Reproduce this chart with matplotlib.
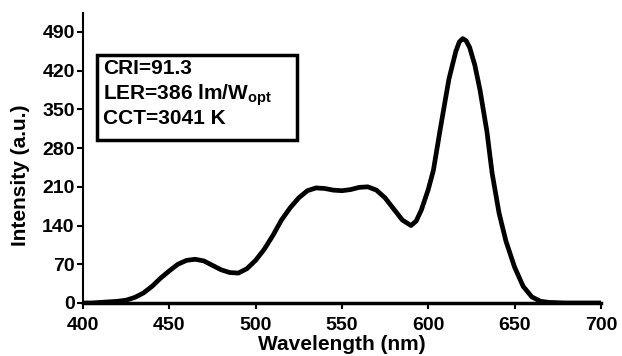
import numpy as np
import matplotlib
matplotlib.use("Agg")
import matplotlib.pyplot as plt
from matplotlib.patches import Rectangle

plt.rcParams['font.family'] = 'Liberation Sans'
plt.rcParams['font.weight'] = 'bold'
plt.rcParams['mathtext.fontset'] = 'custom'
plt.rcParams['mathtext.rm'] = 'Liberation Sans:bold'
plt.rcParams['mathtext.bf'] = 'Liberation Sans:bold'

# spectrum
wavelength = [400, 405, 410, 415, 420, 425, 430, 435, 440, 445, 450, 455, 460, 465,
              470, 475, 480, 485, 490, 495, 500, 505, 510, 515, 520, 525, 530, 535,
              540, 545, 550, 555, 560, 565, 570, 575, 580, 585, 590, 593, 596, 600,
              603, 607, 612, 616, 618, 620, 622, 624, 627, 630, 634, 637, 641, 645,
              650, 655, 660, 665, 670, 680, 690, 700]
intensity = [0, 0, 1, 2, 3, 5, 10, 18, 30, 45, 58, 70, 77, 79,
             76, 68, 60, 55, 54, 62, 77, 97, 122, 150, 172, 190, 203, 208,
             207, 204, 203, 205, 209, 210, 204, 190, 170, 150, 140, 148, 168, 205,
             240, 315, 405, 455, 472, 478, 474, 462, 430, 385, 310, 235, 163, 112,
             65, 30, 11, 3, 1, 0, 0, 0]

xticks = [400, 450, 500, 550, 600, 650, 700]
yticks = [0, 70, 140, 210, 280, 350, 420, 490]
info = ["CRI=91.3", r"LER=386 lm/W$_{\mathbf{opt}}$", "CCT=3041 K"]

fig = plt.figure(figsize=(6.22, 3.56), dpi=100)
ax = fig.add_axes([0.1334, 0.149, 0.8326, 0.814])
ax.plot(wavelength, intensity, color='black', lw=3.4, solid_capstyle='round')

ax.set_xlim(400, 700)
ax.set_ylim(0, 524)
ax.set_xticks(xticks)
ax.set_yticks(yticks)
ax.tick_params(axis='x', direction='out', length=4, width=1.5, labelsize=14, pad=6)
ax.tick_params(axis='y', direction='out', length=4, width=1.5, labelsize=14, pad=2)
for lab in ax.get_xticklabels() + ax.get_yticklabels():
    lab.set_fontweight('bold')
ax.spines['top'].set_visible(False)
ax.spines['right'].set_visible(False)
ax.spines['left'].set_linewidth(1.5)
ax.spines['bottom'].set_linewidth(2.5)
ax.set_xlabel('Wavelength (nm)', fontsize=15, fontweight='bold', labelpad=1)
ax.set_ylabel('Intensity (a.u.)', fontsize=15, fontweight='bold', labelpad=0)
ax.yaxis.set_label_coords(-0.102, 0.44)

# info box
fig.patches.append(Rectangle((97/622, 1-140/356), 200/622, 85/356,
                             transform=fig.transFigure, fill=False,
                             lw=2.5, ec='black'))
for s, yp in zip(info, [69, 95, 119]):
    fig.text(103/622, 1-yp/356, s, fontsize=15, fontweight='bold', va='center')

fig.savefig('out.png', dpi=100)
